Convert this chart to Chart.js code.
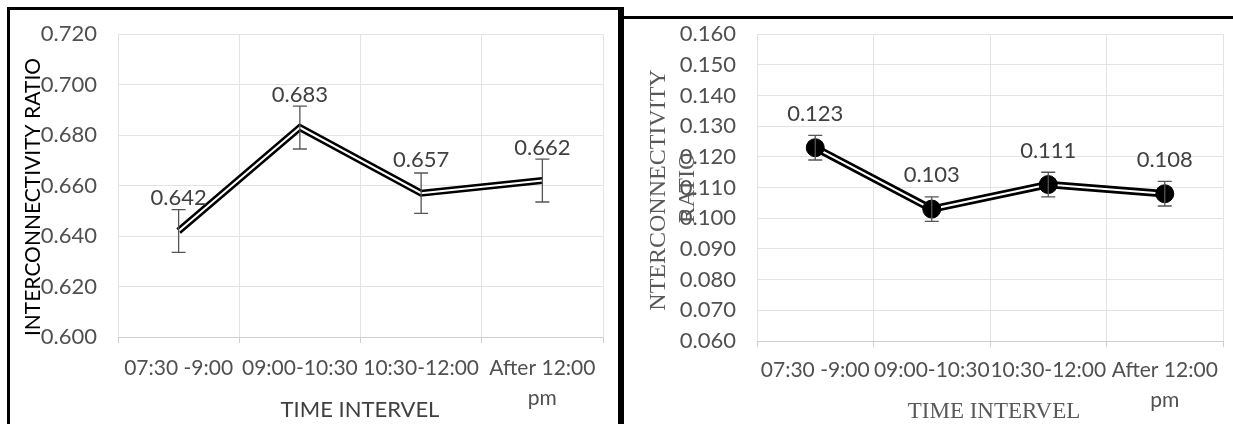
<!DOCTYPE html>
<html>
<head>
<meta charset="utf-8">
<script src="https://cdn.jsdelivr.net/npm/chart.js@4.4.0/dist/chart.umd.min.js"></script>
<style>
  body { margin: 0; background: #fff; width: 1233px; height: 424px; overflow: hidden; position: relative; }
  canvas { position: absolute; top: 0; }
  #leftChart { left: 0; }
  #rightChart { left: 618px; }
  .bx { position: absolute; background: #000; }
</style>
</head>
<body>
<canvas id="leftChart" width="618" height="424"></canvas>
<canvas id="rightChart" width="615" height="424"></canvas>
<div class="bx" style="left:7px;top:7px;width:616px;height:3px"></div>
<div class="bx" style="left:7px;top:7px;width:3px;height:417px"></div>
<div class="bx" style="left:618px;top:7px;width:6px;height:417px"></div>
<div class="bx" style="left:618px;top:16px;width:615px;height:3px"></div>
<script>
// data
const timeLabels = ["07:30 -9:00", "09:00-10:30", "10:30-12:00", ["After 12:00", "pm"]];
const leftValues = [0.642, 0.683, 0.657, 0.662];
const leftErrors = [0.0085, 0.0085, 0.008, 0.0085];
const rightValues = [0.123, 0.103, 0.111, 0.108];
const rightErrors = [0.004, 0.004, 0.004, 0.004];

const GREY = "#505050";

// error bars, value labels and axis titles
const extras = {
    id: "extras",
    afterDatasetsDraw(chart, args, o) {
        const ctx = chart.ctx;
        const y = chart.scales.y;
        const pts = chart.getDatasetMeta(1).data;
        ctx.save();

        ctx.strokeStyle = o.errColor;
        ctx.lineWidth = 1.3;
        o.values.forEach((v, i) => {
            const px = pts[i].x;
            const top = y.getPixelForValue(v + o.errors[i]);
            const bot = y.getPixelForValue(v - o.errors[i]);
            ctx.beginPath();
            ctx.moveTo(px, top); ctx.lineTo(px, bot);
            ctx.moveTo(px - 7, top); ctx.lineTo(px + 7, top);
            ctx.moveTo(px - 7, bot); ctx.lineTo(px + 7, bot);
            ctx.stroke();
        });

        ctx.fillStyle = "#404040";
        ctx.font = "22px Lato";
        ctx.textAlign = "center";
        ctx.textBaseline = "middle";
        o.values.forEach((v, i) => {
            ctx.fillText(v.toFixed(3), pts[i].x, y.getPixelForValue(v) - o.labelOffset);
        });

        // y title (rotated)
        ctx.fillStyle = o.yTitleColor;
        ctx.font = o.yTitleFont;
        o.yTitle.forEach(t => {
            ctx.save();
            ctx.translate(t.x, t.y);
            ctx.rotate(-Math.PI / 2);
            ctx.fillText(t.text, 0, 0);
            ctx.restore();
        });

        // x title
        ctx.fillStyle = o.xTitleColor;
        ctx.font = o.xTitleFont;
        ctx.fillText(o.xTitle.text, o.xTitle.x, o.xTitle.y);
        ctx.restore();
    }
};

function makeChart(id, cfg) {
    return new Chart(document.getElementById(id), {
        type: "line",
        data: {
            labels: timeLabels,
            datasets: [{
                // black outline, drawn underneath
                data: cfg.values,
                order: 2,
                borderColor: "#000",
                borderWidth: cfg.outerWidth,
                pointRadius: 0,
                tension: 0
            }, {
                // white core + markers on top
                data: cfg.values,
                order: 1,
                borderColor: "#fff",
                borderWidth: 2,
                pointRadius: cfg.markerRadius,
                pointBackgroundColor: "#000",
                pointBorderColor: "#000",
                pointBorderWidth: 1,
                tension: 0
            }]
        },
        options: {
            responsive: false,
            animation: false,
            events: [],
            layout: { padding: cfg.padding },
            plugins: {
                legend: { display: false },
                tooltip: { enabled: false },
                extras: {
                    values: cfg.values,
                    errors: cfg.errors,
                    errColor: "#555",
                    labelOffset: cfg.labelOffset,
                    yTitle: cfg.yTitle,
                    yTitleFont: cfg.yTitleFont,
                    yTitleColor: cfg.yTitleColor,
                    xTitle: cfg.xTitle,
                    xTitleFont: cfg.xTitleFont,
                    xTitleColor: cfg.xTitleColor
                }
            },
            scales: {
                x: {
                    offset: true,
                    afterFit: s => { s.height = cfg.xHeight; },
                    grid: {
                        offset: true,
                        color: "#e3e3e3",
                        tickColor: "#cfcfcf",
                        tickLength: 6
                    },
                    border: { color: "#cfcfcf" },
                    ticks: {
                        color: GREY,
                        font: { family: "Lato", size: 21, lineHeight: 1.43 },
                        padding: cfg.xPad,
                        maxRotation: 0,
                        autoSkip: false
                    }
                },
                y: {
                    min: cfg.min,
                    max: cfg.max,
                    afterFit: s => { s.width = cfg.yWidth; },
                    grid: { color: "#e3e3e3", drawTicks: false },
                    border: { display: false },
                    ticks: {
                        stepSize: cfg.step,
                        color: GREY,
                        font: { family: "Lato", size: 22 },
                        padding: 21,
                        callback: v => v.toFixed(3)
                    }
                }
            }
        },
        plugins: [extras]
    });
}

makeChart("leftChart", {
    values: leftValues,
    errors: leftErrors,
    min: 0.6, max: 0.72, step: 0.02,
    padding: { top: 32, right: 15, left: 0, bottom: 0 },
    yWidth: 118, xHeight: 87, xPad: 10,
    outerWidth: 7, markerRadius: 0,
    labelOffset: 33,
    yTitle: [{ text: "INTERCONNECTIVITY RATIO", x: 33, y: 197 }],
    yTitleFont: "21px Lato", yTitleColor: "#000",
    xTitle: { text: "TIME INTERVEL", x: 360, y: 410 },
    xTitleFont: "22px Lato", xTitleColor: "#404040"
});

makeChart("rightChart", {
    values: rightValues,
    errors: rightErrors,
    min: 0.06, max: 0.16, step: 0.01,
    padding: { top: 33, right: 5, left: 0, bottom: 0 },
    yWidth: 139, xHeight: 83, xPad: 8,
    outerWidth: 7.5, markerRadius: 9,
    labelOffset: 34,
    yTitle: [
        { text: "NTERCONNECTIVITY", x: 41, y: 190 },
        { text: "RATIO", x: 70, y: 188 }
    ],
    yTitleFont: "24px 'Liberation Serif'", yTitleColor: "#595959",
    xTitle: { text: "TIME INTERVEL", x: 376, y: 412 },
    xTitleFont: "23px 'Liberation Serif'", xTitleColor: "#595959"
});
</script>
</body>
</html>
